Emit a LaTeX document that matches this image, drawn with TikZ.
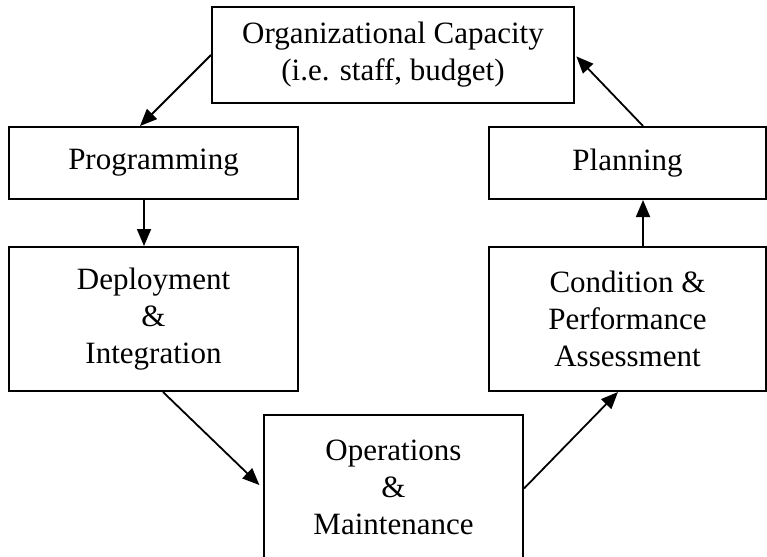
\documentclass[tikz,border=0pt]{standalone}
\usepackage{fontspec}
\setmainfont{Liberation Serif}
\usepackage{tikz}
\usetikzlibrary{arrows.meta}

\begin{document}
\begin{tikzpicture}[x=1pt, y=-1pt,
    stage/.style={draw, line width=2pt, align=center, inner sep=0pt,
      font=\fontsize{31}{37}\selectfont},
    flow/.style={line width=1.8pt, -{Triangle[length=17pt, width=14pt]}}]
      \useasboundingbox (0,0) rectangle (767,556);

      \node[stage, minimum width=362pt, minimum height=96pt] (org) at (393,55)
        {Organizational Capacity\\(i.e. staff, budget)};
      \node[stage, minimum width=289pt, minimum height=72pt] (prog) at (153.5,163) {Programming};
      \node[stage, minimum width=277pt, minimum height=72pt] (plan) at (627.5,163) {Planning};
      \node[stage, minimum width=289pt, minimum height=144pt] (deploy) at (153.5,319)
        {Deployment\\\&\\Integration};
      \node[stage, minimum width=277pt, minimum height=144pt] (cond) at (627.5,319)
        {Condition \&\\Performance\\Assessment};
      \node[stage, minimum width=259pt, minimum height=145pt] (ops) at (393.5,487.5)
        {Operations\\\&\\Maintenance};

      \draw[flow] (org.west) -- ([xshift=-13.5pt]prog.north);
      \draw[flow] ([xshift=-9.5pt]prog.south) -- ([xshift=-9.5pt]deploy.north);
      \draw[flow, shorten >=5pt] ([xshift=9.5pt]deploy.south) -- ([yshift=-1pt]ops.west);
      \draw[flow] ([yshift=-1pt]ops.east) -- ([xshift=-9.5pt]cond.south);
      \draw[flow] ([xshift=15.5pt]cond.north) -- ([xshift=15.5pt]plan.south);
      \draw[flow, shorten >=2pt] ([xshift=15.5pt]plan.north) -- (org.east);
    \end{tikzpicture}
\end{document}
